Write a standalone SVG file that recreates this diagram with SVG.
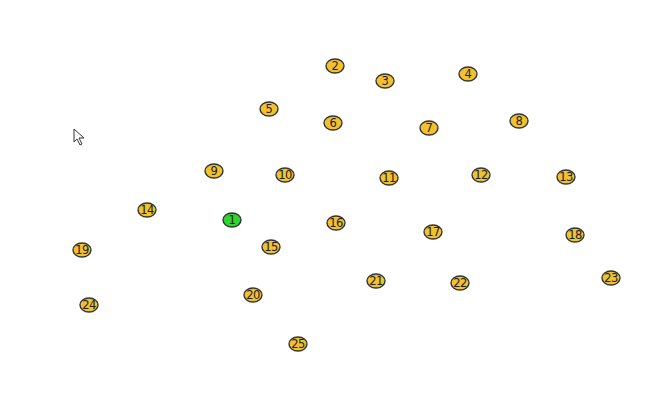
<svg xmlns="http://www.w3.org/2000/svg" width="670" height="400" viewBox="0 0 670 400">
<style>
.n ellipse{fill:#f2c12e;stroke:#333;stroke-width:1.4}
.n.g ellipse{fill:#2fd62f}
.n text{font-family:"DejaVu Sans",sans-serif;font-size:11.5px;fill:#222;text-anchor:middle;dominant-baseline:central;letter-spacing:-0.5px}
</style>
<rect width="670" height="400" fill="#fff"/>
<g id="connectors"></g>
<g id="cursor"><path d="M74,129 L74,142 L77,139 L80,145 L82,144 L79,138 L84,138 Z" fill="#fff" stroke="#333" stroke-width="1"/></g>
<g id="n1" class="n g"><ellipse cx="232" cy="220" rx="9" ry="7"/><text x="232" y="220">1</text></g>
<g id="n2" class="n"><ellipse cx="335" cy="66" rx="9" ry="7"/><text x="335" y="66">2</text></g>
<g id="n3" class="n"><ellipse cx="385" cy="81" rx="9" ry="7"/><text x="385" y="81">3</text></g>
<g id="n4" class="n"><ellipse cx="468" cy="74" rx="9" ry="7"/><text x="468" y="74">4</text></g>
<g id="n5" class="n"><ellipse cx="269" cy="109" rx="9" ry="7"/><text x="269" y="109">5</text></g>
<g id="n6" class="n"><ellipse cx="333" cy="123" rx="9" ry="7"/><text x="333" y="123">6</text></g>
<g id="n7" class="n"><ellipse cx="429" cy="128" rx="9" ry="7"/><text x="429" y="128">7</text></g>
<g id="n8" class="n"><ellipse cx="519" cy="121" rx="9" ry="7"/><text x="519" y="121">8</text></g>
<g id="n9" class="n"><ellipse cx="214" cy="171" rx="9" ry="7"/><text x="214" y="171">9</text></g>
<g id="n10" class="n"><ellipse cx="285" cy="175" rx="9" ry="7"/><text x="285" y="175">10</text></g>
<g id="n11" class="n"><ellipse cx="389" cy="178" rx="9" ry="7"/><text x="389" y="178">11</text></g>
<g id="n12" class="n"><ellipse cx="481" cy="175" rx="9" ry="7"/><text x="481" y="175">12</text></g>
<g id="n13" class="n"><ellipse cx="566" cy="177" rx="9" ry="7"/><text x="566" y="177">13</text></g>
<g id="n14" class="n"><ellipse cx="147" cy="210" rx="9" ry="7"/><text x="147" y="210">14</text></g>
<g id="n15" class="n"><ellipse cx="271" cy="247" rx="9" ry="7"/><text x="271" y="247">15</text></g>
<g id="n16" class="n"><ellipse cx="336" cy="223" rx="9" ry="7"/><text x="336" y="223">16</text></g>
<g id="n17" class="n"><ellipse cx="433" cy="232" rx="9" ry="7"/><text x="433" y="232">17</text></g>
<g id="n18" class="n"><ellipse cx="575" cy="235" rx="9" ry="7"/><text x="575" y="235">18</text></g>
<g id="n19" class="n"><ellipse cx="82" cy="250" rx="9" ry="7"/><text x="82" y="250">19</text></g>
<g id="n20" class="n"><ellipse cx="253" cy="295" rx="9" ry="7"/><text x="253" y="295">20</text></g>
<g id="n21" class="n"><ellipse cx="376" cy="281" rx="9" ry="7"/><text x="376" y="281">21</text></g>
<g id="n22" class="n"><ellipse cx="460" cy="283" rx="9" ry="7"/><text x="460" y="283">22</text></g>
<g id="n23" class="n"><ellipse cx="611" cy="278" rx="9" ry="7"/><text x="611" y="278">23</text></g>
<g id="n24" class="n"><ellipse cx="89" cy="305" rx="9" ry="7"/><text x="89" y="305">24</text></g>
<g id="n25" class="n"><ellipse cx="298" cy="344" rx="9" ry="7"/><text x="298" y="344">25</text></g>
</svg>
